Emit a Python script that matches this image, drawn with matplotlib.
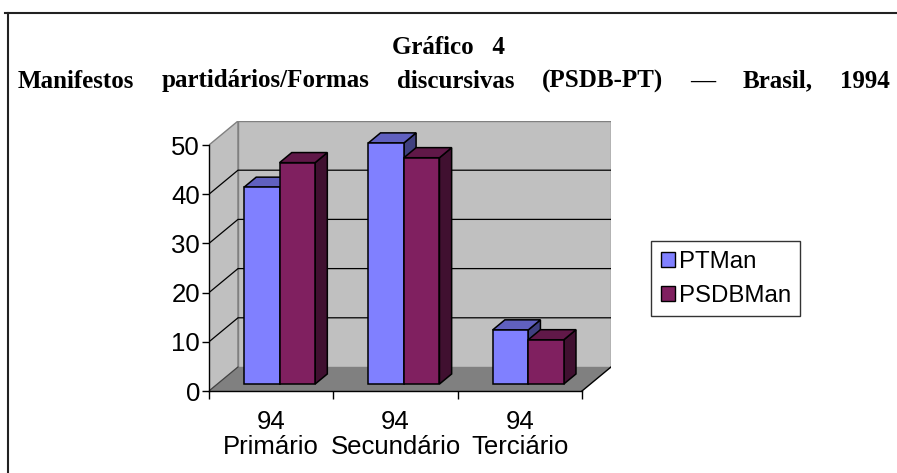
import matplotlib
matplotlib.use('Agg')
import matplotlib.pyplot as plt
from matplotlib.patches import Polygon, Rectangle
from matplotlib.lines import Line2D

# dados do gráfico
categories = ['94\nPrimário', '94\nSecundário', '94\nTerciário']
series_names = ['PTMan', 'PSDBMan']
pt_man = [40, 49, 11]
psdb_man = [45, 46, 9]
yticks = [0, 10, 20, 30, 40, 50]
title1 = 'Gráfico   4'
title2 = 'Manifestos partidários/Formas discursivas (PSDB-PT) — Brasil, 1994'

plt.rcParams['font.family'] = ['Liberation Sans', 'DejaVu Sans']

W, H = 897, 473
fig = plt.figure(figsize=(W / 100, H / 100), dpi=100)

# caixa frontal em pixels e profundidade do efeito 3D
left, right_front, bottom_px, top_front = 209, 582, 391, 145
dxp, dyp = 29, 24
ax = fig.add_axes([left / W, (H - bottom_px) / H,
                   (right_front - left + dxp) / W, (bottom_px - top_front + dyp) / H])
n = len(categories)
ymax = yticks[-1]
DX = n * dxp / (right_front - left)
DY = ymax * dyp / (bottom_px - top_front)
ax.set_xlim(0, n + DX)
ax.set_ylim(0, ymax + DY)

wall = '#c0c0c0'
edge = '#808080'
# parede lateral, parede do fundo, chão
ax.add_patch(Polygon([(0, 0), (DX, DY), (DX, ymax + DY), (0, ymax)],
                     fc=wall, ec=edge, lw=1, zorder=0))
ax.add_patch(Polygon([(DX, DY), (n + DX, DY), (n + DX, ymax + DY), (DX, ymax + DY)],
                     fc=wall, ec=edge, lw=1, zorder=0))
ax.add_patch(Polygon([(0, 0), (n, 0), (n + DX, DY), (DX, DY)],
                     fc='#808080', ec='none', zorder=1))
ax.plot([n, n + DX], [0, DY], color='black', lw=1, zorder=1.5)
ax.plot([0, DX], [0, DY], color='#404040', lw=0.8, zorder=1.5)

# linhas de grade
for v in yticks[1:-1]:
    ax.plot([0, DX, n + DX], [v, v + DY, v + DY], color='black', lw=0.9, zorder=2)

# barras 3D
d0, d1 = 0.29, 0.71
gap = 0.214
bw = (1 - 2 * gap) / 2
colors = [('#8080ff', '#6060bf', '#404080'), ('#802060', '#601848', '#401030')]


def bar3d(x0, v, front_c, top_c, side_c, z):
    ox0, oy0 = d0 * DX, d0 * DY
    ox1, oy1 = d1 * DX, d1 * DY
    x1 = x0 + bw
    side = [(x1 + ox0, oy0), (x1 + ox1, oy1), (x1 + ox1, v + oy1), (x1 + ox0, v + oy0)]
    top = [(x0 + ox0, v + oy0), (x1 + ox0, v + oy0), (x1 + ox1, v + oy1), (x0 + ox1, v + oy1)]
    front = [(x0 + ox0, oy0), (x1 + ox0, oy0), (x1 + ox0, v + oy0), (x0 + ox0, v + oy0)]
    for pts, c in [(side, side_c), (top, top_c), (front, front_c)]:
        ax.add_patch(Polygon(pts, fc=c, ec='black', lw=1.1, joinstyle='miter', zorder=z))


for i in range(n):
    for j, vals in enumerate([pt_man, psdb_man]):
        bar3d(i + gap + j * bw, vals[i], *colors[j], z=3 + i * 2 + j)

# eixos
for s in ['top', 'right']:
    ax.spines[s].set_visible(False)
ax.spines['left'].set_bounds(0, ymax)
ax.spines['bottom'].set_bounds(0, n)
for s in ['left', 'bottom']:
    ax.spines[s].set_linewidth(1)
    ax.spines[s].set_zorder(20)
ax.set_yticks(yticks)
ax.tick_params(axis='y', direction='out', length=5, width=1, pad=1.5, labelsize=18.5)
ax.set_xticks(range(n + 1))
ax.set_xticklabels([])
ax.set_xticks([i + 0.5 for i in range(n)], minor=True)
ax.set_xticklabels(categories, minor=True, fontsize=18.5, linespacing=1.05)
ax.tick_params(axis='x', which='major', direction='out', length=6, width=1)
ax.tick_params(axis='x', which='minor', length=0, pad=14)

# legenda
handles = [Rectangle((0, 0), 1, 1, fc=c[0], ec='black', lw=1) for c in colors]
leg = fig.legend(handles, series_names, loc='upper left',
                 bbox_to_anchor=(651 / W, 1 - 241 / H), frameon=True, fancybox=False,
                 edgecolor='black', fontsize=17.3, handlelength=0.6, handleheight=0.6,
                 handletextpad=0.15, borderpad=0.4, labelspacing=0.5, borderaxespad=0)
leg.get_frame().set_linewidth(1)

# moldura
fig.add_artist(Line2D([5 / W, 1], [1 - 13 / H] * 2, color='#222222', lw=1.5))
fig.add_artist(Line2D([8 / W] * 2, [0, 1 - 13 / H], color='#222222', lw=1.5))

# títulos
tfont = dict(fontfamily='Liberation Serif', fontweight='bold', fontsize=18)
fig.text(0.5, 1 - 47 / H, title1, ha='center', va='center', **tfont)
words = title2.split()
texts = [fig.text(0, 1 - 81 / H, w, ha='left', va='center', **tfont) for w in words]
fig.canvas.draw()
r = fig.canvas.get_renderer()
widths = [t.get_window_extent(r).width for t in texts]
x0, x1 = 18, 890
sp = (x1 - x0 - sum(widths)) / (len(words) - 1)
x = x0
for t, w in zip(texts, widths):
    t.set_x(x / W)
    x += w + sp

fig.savefig('out.png', dpi=100)
